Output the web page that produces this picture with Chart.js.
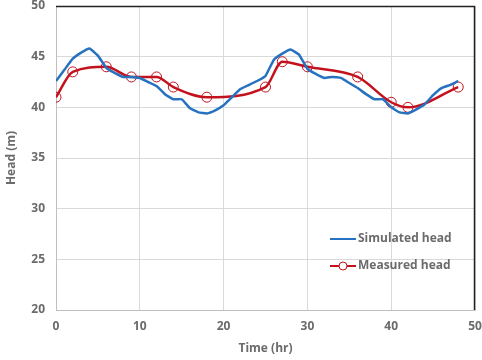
<!DOCTYPE html>
<html>
<head>
<meta charset="utf-8">
<script src="https://cdn.jsdelivr.net/npm/chart.js@4.4.1/dist/chart.umd.min.js"></script>
<style>
  html, body { margin: 0; padding: 0; background: #fff; }
  #wrap { width: 482px; height: 360px; position: relative; }
</style>
</head>
<body>
<div id="wrap"><canvas id="chart" width="482" height="360"></canvas></div>
<script>
// simulated head, hourly
const simTime = [0,1,2,3,4,5,6,7,8,9,10,11,12,13,14,15,16,17,18,19,20,21,22,23,24,25,26,27,28,29,30,31,32,33,34,35,36,37,38,39,40,41,42,43,44,45,46,47,48];
const simHead = [42.6,43.7,44.8,45.4,45.8,45.1,43.9,43.4,43.0,43.0,42.9,42.5,42.1,41.3,40.8,40.8,39.9,39.5,39.4,39.7,40.2,41.0,41.8,42.2,42.6,43.1,44.7,45.3,45.7,45.2,43.8,43.3,42.9,43.0,42.9,42.4,41.9,41.3,40.8,40.8,40.0,39.5,39.4,39.8,40.3,41.2,41.9,42.2,42.6];

// measured head
const measTime = [0,2,6,9,12,14,18,25,27,30,36,40,42,48];
const measHead = [41.0,43.5,44.0,43.0,43.0,42.0,41.0,42.0,44.5,44.0,43.0,40.5,40.0,42.0];

const seriesNames = ['Simulated head', 'Measured head'];
const xTicks = [0,10,20,30,40,50];
const yTicks = [20,25,30,35,40,45,50];

const blue = '#2672c0';
const red = '#c3121e';
const textCol = '#6b6b6b';
const fontFam = '"Open Sans", "Liberation Sans", sans-serif';

const legendPlugin = {
    id: 'insideLegend',
    afterDraw(chart) {
        const ctx = chart.ctx;
        const area = chart.chartArea;
        ctx.save();
        // plot border top/right
        ctx.strokeStyle = '#222';
        ctx.lineWidth = 1.5;
        ctx.beginPath();
        ctx.moveTo(area.left, area.top + 0.5);
        ctx.lineTo(area.right - 0.5, area.top + 0.5);
        ctx.lineTo(area.right - 0.5, area.bottom);
        ctx.stroke();

        const x0 = 330, x1 = 356;
        const rows = [{ y: 239, color: blue, marker: false }, { y: 266, color: red, marker: true }];
        ctx.font = 'bold 12px ' + fontFam;
        ctx.textBaseline = 'middle';
        rows.forEach((r, i) => {
            ctx.strokeStyle = r.color;
            ctx.lineWidth = 2;
            ctx.beginPath();
            ctx.moveTo(x0, r.y);
            ctx.lineTo(x1, r.y);
            ctx.stroke();
            if (r.marker) {
                ctx.fillStyle = '#fff';
                ctx.lineWidth = 1;
                ctx.beginPath();
                ctx.arc((x0 + x1) / 2, r.y, 4, 0, Math.PI * 2);
                ctx.fill();
                ctx.stroke();
            }
            ctx.fillStyle = textCol;
            ctx.fillText(seriesNames[i], x1 + 2, r.y);
        });
        ctx.restore();
    }
};

new Chart(document.getElementById('chart'), {
    type: 'line',
    data: {
        datasets: [
            {
                label: seriesNames[0],
                data: simTime.map((t, i) => ({ x: t, y: simHead[i] })),
                borderColor: blue,
                borderWidth: 2.5,
                pointRadius: 0,
                tension: 0.1,
                fill: false
            },
            {
                label: seriesNames[1],
                data: measTime.map((t, i) => ({ x: t, y: measHead[i] })),
                borderColor: red,
                borderWidth: 2.5,
                pointRadius: 5,
                pointBorderWidth: 1,
                pointBackgroundColor: 'rgba(255,255,255,0)',
                pointBorderColor: red,
                cubicInterpolationMode: 'monotone',
                fill: false
            }
        ]
    },
    options: {
        responsive: false,
        animation: false,
        layout: { padding: { top: 5, right: 7, left: 0, bottom: 0 } },
        plugins: { legend: { display: false }, tooltip: { enabled: false } },
        scales: {
            x: {
                type: 'linear',
                min: 0, max: 50,
                afterBuildTicks: axis => { axis.ticks = xTicks.map(v => ({ value: v })); },
                afterFit: axis => { axis.height = 50; axis.paddingRight = 0; axis.paddingLeft = 0; },
                grid: { color: '#d9d9d9', lineWidth: 1, drawTicks: false },
                border: { color: '#bfbfbf' },
                ticks: { color: textCol, font: { family: fontFam, size: 12, weight: 'bold' }, padding: 9, maxRotation: 0 },
                title: { display: true, text: 'Time (hr)', color: textCol, font: { family: fontFam, size: 12, weight: 'bold' }, padding: { top: 3 } }
            },
            y: {
                min: 20, max: 50,
                afterBuildTicks: axis => { axis.ticks = yTicks.map(v => ({ value: v })); },
                afterFit: axis => { axis.width = 56; axis.paddingTop = 0; axis.paddingBottom = 0; },
                grid: { color: '#d9d9d9', lineWidth: 1, drawTicks: false },
                border: { color: '#bfbfbf' },
                ticks: { color: textCol, font: { family: fontFam, size: 12, weight: 'bold' }, padding: 11 },
                title: { display: true, text: 'Head (m)', color: textCol, font: { family: fontFam, size: 12, weight: 'bold' }, padding: { bottom: 5 } }
            }
        }
    },
    plugins: [legendPlugin]
});
</script>
</body>
</html>
